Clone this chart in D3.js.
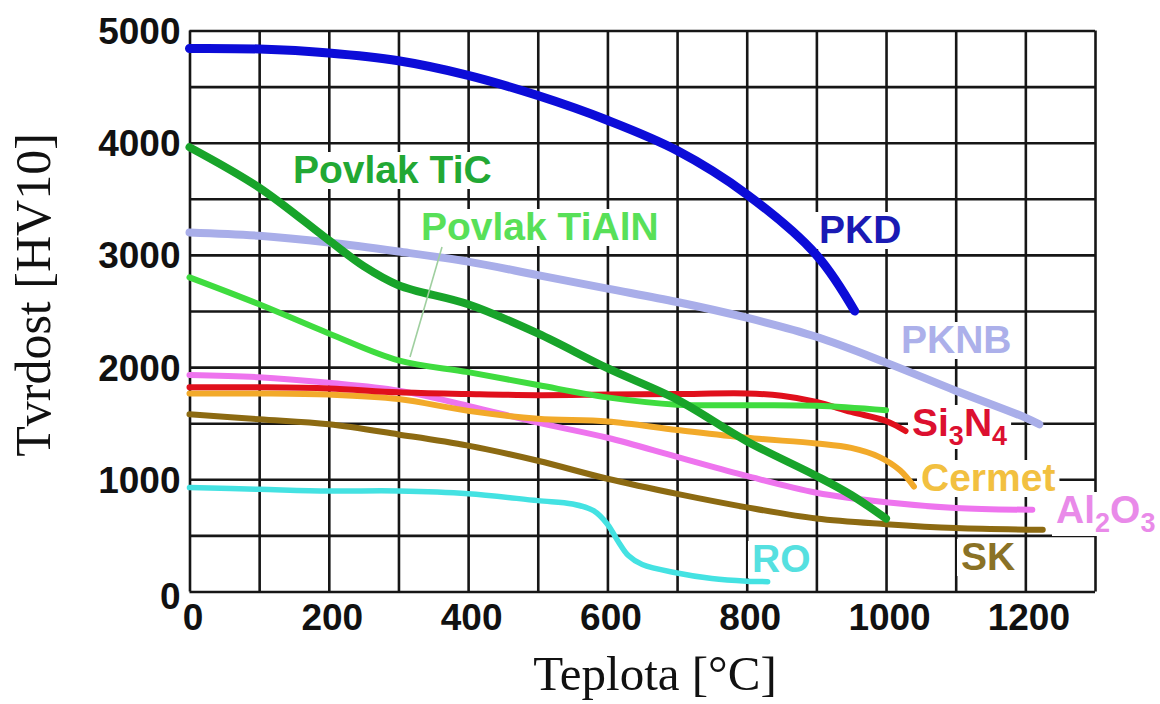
<!DOCTYPE html>
<html><head><meta charset="utf-8">
<script src="https://cdn.jsdelivr.net/npm/d3@7"></script>
<style>
body{margin:0;background:#fff;}
svg{display:block;}
.tick text{font-family:"Liberation Sans",Arial,sans-serif;font-weight:bold;fill:#111;}
</style></head>
<body>
<svg id="chart" width="1160" height="704"></svg>
<script>
// ---- data ----
const xTickLabels = [0, 200, 400, 600, 800, 1000, 1200];
const yTickLabels = [0, 1000, 2000, 3000, 4000, 5000];

const pkdT   = [0, 100, 200, 300, 400, 500, 600, 700, 800, 900, 955];
const pkdV   = [4840, 4835, 4800, 4730, 4600, 4420, 4200, 3930, 3540, 3000, 2500];

const ticT   = [0, 100, 200, 250, 300, 400, 500, 600, 700, 800, 900, 950, 1000];
const ticV   = [3960, 3600, 3130, 2900, 2730, 2560, 2300, 1990, 1710, 1340, 1030, 860, 650];

const tialnT = [0, 100, 200, 300, 400, 500, 600, 700, 800, 900, 1000];
const tialnV = [2800, 2560, 2300, 2060, 1955, 1840, 1730, 1665, 1660, 1655, 1615];

const pknbT  = [0, 100, 200, 300, 400, 500, 600, 700, 800, 900, 1000, 1100, 1200, 1220];
const pknbV  = [3200, 3170, 3110, 3030, 2940, 2820, 2700, 2580, 2440, 2270, 2040, 1790, 1550, 1490];

const si3n4T = [0, 100, 200, 300, 400, 500, 600, 700, 800, 850, 900, 950, 1000, 1028];
const si3n4V = [1820, 1820, 1810, 1775, 1760, 1750, 1755, 1760, 1765, 1745, 1690, 1600, 1520, 1430];

const cermetT = [0, 100, 200, 300, 400, 500, 600, 700, 800, 900, 950, 990, 1020, 1040];
const cermetV = [1765, 1765, 1755, 1715, 1610, 1540, 1515, 1440, 1370, 1320, 1280, 1200, 1080, 935];

const al2o3T = [0, 100, 200, 300, 400, 500, 600, 700, 800, 900, 1000, 1100, 1210];
const al2o3V = [1930, 1910, 1860, 1790, 1655, 1505, 1370, 1200, 1030, 880, 795, 745, 728];

const skT    = [0, 100, 200, 300, 400, 500, 600, 700, 800, 900, 1000, 1100, 1225];
const skV    = [1580, 1535, 1490, 1400, 1300, 1165, 1005, 870, 750, 650, 600, 565, 550];

const roT    = [0, 100, 200, 300, 400, 500, 550, 580, 600, 615, 630, 650, 700, 750, 800, 830];
const roV    = [926, 911, 896, 896, 872, 810, 780, 720, 600, 450, 320, 240, 165, 115, 92, 88];

const seriesNames  = ["PKNB", "SK", "RO", "Al2O3", "Cermet", "Si3N4", "TiAlN", "TiC", "PKD"];

// ---- layout ----
const svg = d3.select("#chart");
const L = 189.5, R = 1095, T = 30.5, B = 591.5;
const x = d3.scaleLinear().domain([0, 1300]).range([L, R]);
const y = d3.scaleLinear().domain([0, 5000]).range([B, T]);

const series = [
  {name:"PKNB",   t:pknbT,   v:pknbV,   color:"#a9aee9", w:8},
  {name:"SK",     t:skT,     v:skV,     color:"#8c6a12", w:6},
  {name:"RO",     t:roT,     v:roV,     color:"#44e2e2", w:5.5},
  {name:"Al2O3",  t:al2o3T,  v:al2o3V,  color:"#ee74ee", w:6},
  {name:"Cermet", t:cermetT, v:cermetV, color:"#f2aa2a", w:6},
  {name:"Si3N4",  t:si3n4T,  v:si3n4V,  color:"#e0101c", w:6},
  {name:"TiAlN",  t:tialnT,  v:tialnV,  color:"#3fdc3f", w:6},
  {name:"TiC",    t:ticT,    v:ticV,    color:"#18a42a", w:8},
  {name:"PKD",    t:pkdT,    v:pkdV,    color:"#0c0cd8", w:9}
];

// grid
const gx = svg.append("g").attr("transform", `translate(0,${B})`)
  .call(d3.axisBottom(x).tickValues(d3.range(0, 1301, 100)).tickSize(-(B - T)).tickFormat(""));
const gy = svg.append("g").attr("transform", `translate(${L},0)`)
  .call(d3.axisLeft(y).tickValues(d3.range(0, 5001, 500)).tickSize(-(R - L)).tickFormat(""));
[gx, gy].forEach(g => {
  g.select(".domain").remove();
  g.selectAll(".tick line").attr("stroke", "#161616").attr("stroke-width", 2.6);
});

// label backgrounds layer
const bgLayer = svg.append("g");

// curves
const line = d3.line().x(d => x(d[0])).y(d => y(d[1])).curve(d3.curveCatmullRom.alpha(0.5));
const curveLayer = svg.append("g");
series.forEach(s => {
  curveLayer.append("path")
    .datum(s.t.map((t, i) => [t, s.v[i]]))
    .attr("d", line)
    .attr("fill", "none")
    .attr("stroke", s.color)
    .attr("stroke-width", s.w)
    .attr("stroke-linecap", "round")
    .attr("stroke-linejoin", "round");
});

// pointer line for TiAlN label
svg.append("line")
  .attr("x1", 410).attr("y1", 357).attr("x2", 442).attr("y2", 247)
  .attr("stroke", "#9fcf9f").attr("stroke-width", 1.6);

// axis tick labels
const ax = svg.append("g").attr("transform", `translate(0,${B})`)
  .call(d3.axisBottom(x).tickValues(xTickLabels).tickSize(0).tickPadding(12).tickFormat(d3.format("d")));
ax.select(".domain").remove();
ax.selectAll(".tick text").attr("font-size", 37).attr("dy", "0.71em").attr("dx", 3);

const ay = svg.append("g").attr("transform", `translate(${L},0)`)
  .call(d3.axisLeft(y).tickValues(yTickLabels).tickSize(0).tickPadding(9).tickFormat(d3.format("d")));
ay.select(".domain").remove();
ay.selectAll(".tick text").attr("font-size", 37).attr("dy", d => d === 0 ? "0.45em" : "0.35em");

// axis titles
svg.append("text")
  .attr("transform", "translate(50,295) rotate(-90)")
  .attr("text-anchor", "middle")
  .attr("font-family", "'Liberation Serif','Times New Roman',serif")
  .attr("font-size", 50).attr("fill", "#111")
  .text("Tvrdost [HV10]");
svg.append("text")
  .attr("x", 655).attr("y", 690)
  .attr("text-anchor", "middle")
  .attr("font-family", "'Liberation Serif','Times New Roman',serif")
  .attr("font-size", 49).attr("fill", "#111")
  .text("Teplota [°C]");

// curve labels
const labels = [
  {parts:[["Povlak TiC"]], x:293, y:183, color:"#22a834"},
  {parts:[["Povlak TiAlN"]], x:421, y:240, color:"#58e058"},
  {parts:[["PKD"]], x:819, y:243, color:"#1a1ab4"},
  {parts:[["PKNB"]], x:901, y:353, color:"#acb0ea"},
  {parts:[["Si"],["3","sub"],["N"],["4","sub"]], x:912, y:436, color:"#dc1030"},
  {parts:[["Cermet"]], x:921, y:491, color:"#f2c040"},
  {parts:[["Al"],["2","sub"],["O"],["3","sub"]], x:1056, y:523, color:"#e98ae9"},
  {parts:[["SK"]], x:961, y:570, color:"#8a7226"},
  {parts:[["RO"]], x:752, y:572, color:"#55e0e0"}
];
labels.forEach(lb => {
  const t = svg.append("text")
    .attr("x", lb.x).attr("y", lb.y)
    .attr("font-family", "'Liberation Sans',Arial,sans-serif")
    .attr("font-weight", "bold").attr("font-size", 39)
    .attr("fill", lb.color);
  let shifted = false;
  lb.parts.forEach(p => {
    const ts = t.append("tspan").text(p[0]);
    if (p[1] === "sub") {
      ts.attr("font-size", 27).attr("dy", shifted ? 0 : 9);
      shifted = true;
    } else if (shifted) {
      ts.attr("dy", -9);
      shifted = false;
    }
  });
  const bb = t.node().getBBox();
  bgLayer.append("rect")
    .attr("x", bb.x - 4).attr("y", bb.y + 4)
    .attr("width", bb.width + 8).attr("height", bb.height - 6)
    .attr("fill", "#fff");
});
</script>
</body></html>
